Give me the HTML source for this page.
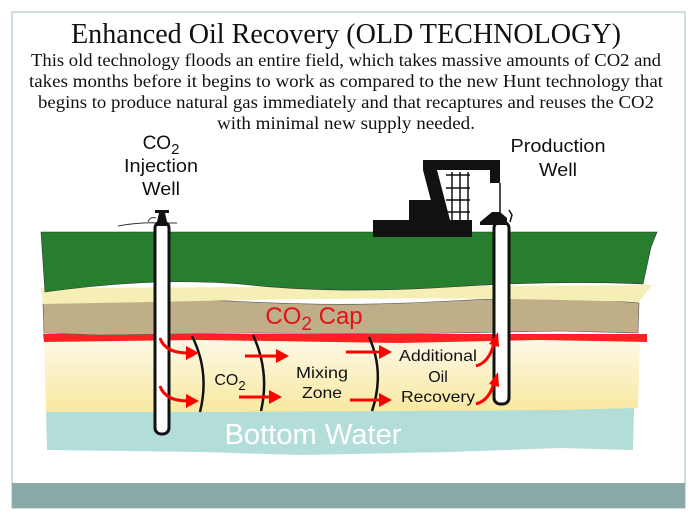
<!DOCTYPE html>
<html><head><meta charset="utf-8"><style>
html,body{margin:0;padding:0;background:#fff;}
body{width:692px;height:519px;position:relative;overflow:hidden;}
</style></head><body>
<svg width="692" height="519" viewBox="0 0 692 519" xmlns="http://www.w3.org/2000/svg">
<rect x="12" y="12" width="673" height="496" fill="#fff" stroke="#9fbcbc" stroke-width="1"/>
<rect x="12" y="483" width="673" height="25" fill="#8aa8a8"/>
<g font-family="Liberation Serif, serif" fill="#111" text-anchor="middle">
<text x="346" y="43" font-size="28" textLength="550" lengthAdjust="spacingAndGlyphs">Enhanced Oil Recovery (OLD TECHNOLOGY)</text>
<text x="346" y="66" font-size="17.5" textLength="630" lengthAdjust="spacingAndGlyphs">This old technology floods an entire field, which takes massive amounts of CO2 and</text>
<text x="346" y="87" font-size="17.5" textLength="634" lengthAdjust="spacingAndGlyphs">takes months before it begins to work as compared to the new Hunt technology that</text>
<text x="346" y="108" font-size="17.5" textLength="616" lengthAdjust="spacingAndGlyphs">begins to produce natural gas immediately and that recaptures and reuses the CO2</text>
<text x="346" y="129" font-size="17.5" textLength="258" lengthAdjust="spacingAndGlyphs">with minimal new supply needed.</text>
</g>
<defs><linearGradient id="oil" x1="0" y1="0" x2="0" y2="1"><stop offset="0" stop-color="#fdf8e6"/><stop offset="1" stop-color="#f8e9a0"/></linearGradient></defs>
<path d="M46 410 L634 408 L633 450 L560 448 L450 452 L300 455 L200 452 L47 450 Z" fill="#b3ddd8"/>
<path d="M44 340 L640 340 L638 408 L560 410 L400 411 L200 412 L46 412 Z" fill="url(#oil)"/>
<path d="M43 334 L647 334 L647 342 L540 340 L400 343 L200 340 L44 342 Z" fill="#f22"/>
<path d="M43 303 Q150 297 250 302 T450 301 T639 303 L638 333 L560 331 L400 334 L250 333 L100 335 L44 333 Z" fill="#bfae88" stroke="#555" stroke-width="0.6"/>
<path d="M41 288 L652 285 L639 302 Q450 296 250 300 T43 304 Z" fill="#f5eeb5"/>
<path d="M41 232 L657 232 L651 247 L643 284 Q560 280 450 287 T250 285 T45 292 Z" fill="#267e2e" stroke="#333" stroke-width="0.6"/>
<g fill="none" stroke="#111" stroke-width="2.5">
<path d="M192 336 Q210 372 200 412"/>
<path d="M253 335 Q270 372 261 411"/>
<path d="M369 337 Q385 372 372 411"/>
</g>
<path d="M148 222 Q150 216 156 218" stroke="#333" fill="none"/>
<path d="M118 226 Q140 222 160 223 L177 223" stroke="#333" fill="none"/>
<rect x="155" y="222" width="14" height="212" rx="6" fill="#fff" stroke="#111" stroke-width="3"/>
<path d="M156 226 L159 213 L165 213 L168 226 Z" fill="#111"/>
<rect x="155" y="210" width="14" height="3" fill="#111"/>
<rect x="494" y="222" width="15" height="182" rx="6" fill="#fff" stroke="#111" stroke-width="3"/>
<g fill="#111">
<rect x="373" y="220" width="99" height="17"/>
<rect x="409" y="200" width="35" height="21"/>
<path d="M423 160 L500 160 L500 183 L490 183 L490 170 L437 170 L450 220 L436 220 L423 170 Z"/>
<path d="M480 222 L492 212 L500 212 L507 218 L507 225 L480 225 Z"/>
</g>
<g stroke="#111" fill="none" stroke-width="1.5">
<path d="M446 175 L470 175 M446 188 L470 188 M446 200 L470 200 M446 212 L470 212 M452 172 L452 220 M460 172 L460 220 M468 172 L468 220"/>
<path d="M500 183 L500 214 M509 210 L512 215 L510 222"/>
</g>
<g stroke="#f00" stroke-width="3" fill="none">
<path d="M160 338 Q165 353 188 353"/>
<path d="M160 386 Q165 401 188 401"/>
<path d="M245 356 L278 356"/><path d="M239 397 L271 397"/>
<path d="M346 352 L381 352"/><path d="M350 400 L381 400"/>
<path d="M476 366 Q490 362 494 342"/><path d="M476 404 Q490 400 494 382"/>
</g>
<g fill="#f00">
<path d="M186 346 L199 353 L186 360 Z"/><path d="M186 394 L199 401 L186 408 Z"/>
<path d="M276 349 L289 356 L276 363 Z"/><path d="M269 390 L282 397 L269 404 Z"/>
<path d="M379 345 L392 352 L379 359 Z"/><path d="M379 393 L392 400 L379 407 Z"/>
<path d="M489 344 L498 332 L499 347 Z"/><path d="M489 384 L498 372 L499 387 Z"/>
</g>
<g font-family="Liberation Sans, sans-serif" fill="#111" text-anchor="middle">
<text x="161" y="149" font-size="19">CO<tspan font-size="15" dy="5">2</tspan></text>
<text x="161" y="172" font-size="18" textLength="74" lengthAdjust="spacingAndGlyphs">Injection</text>
<text x="161" y="195" font-size="18" textLength="38" lengthAdjust="spacingAndGlyphs">Well</text>
<text x="558" y="152" font-size="18" textLength="95" lengthAdjust="spacingAndGlyphs">Production</text>
<text x="558" y="176" font-size="18" textLength="38" lengthAdjust="spacingAndGlyphs">Well</text>
<text x="230" y="385" font-size="16">CO<tspan font-size="13" dy="5">2</tspan></text>
<text x="322" y="378" font-size="16" textLength="52" lengthAdjust="spacingAndGlyphs">Mixing</text>
<text x="322" y="398" font-size="16" textLength="40" lengthAdjust="spacingAndGlyphs">Zone</text>
<text x="438" y="361" font-size="16" textLength="78" lengthAdjust="spacingAndGlyphs">Additional</text>
<text x="438" y="382" font-size="16">Oil</text>
<text x="438" y="402" font-size="16" textLength="74" lengthAdjust="spacingAndGlyphs">Recovery</text>
<text x="314" y="324" font-size="24" fill="#e0121a">CO<tspan font-size="19" dy="6">2</tspan><tspan dy="-6"> Cap</tspan></text>
<text x="313" y="444" font-size="29" fill="#fff" textLength="177" lengthAdjust="spacingAndGlyphs">Bottom Water</text>
</g>
</svg>
</body></html>
